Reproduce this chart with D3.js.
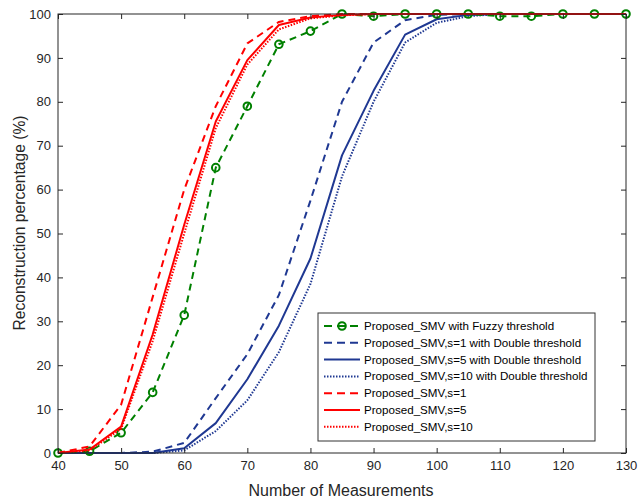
<!DOCTYPE html>
<html><head><meta charset="utf-8">
<script src="https://cdn.jsdelivr.net/npm/d3@7"></script>
<style>body{margin:0;background:#fff}svg{display:block}</style>
</head><body>
<svg id="c" width="638" height="500"></svg>
<script>
const measurements = [40,45,50,55,60,65,70,75,80,85,90,95,100,105,110,115,120,125,130];
const fuzzy   = [0,0.4,4.6,13.8,31.4,65,79,93.1,96.1,100,99.5,100,100,100,99.5,99.5,100,100,100];
const dbl_s1  = [0,0,0,0.3,2.3,12.5,22.5,36,57.5,80,93.5,98.6,99.8,100,100,100,100,100,100];
const dbl_s5  = [0,0,0,0,1.1,6.8,16.8,29,44.3,67.8,82.5,95.3,98.8,99.8,100,100,100,100,100];
const dbl_s10 = [0,0,0,0,0.6,5,12,23,38.5,63,80,93.5,98,99.5,100,100,100,100,100];
const s1      = [0,1.5,11,35.5,60,79,93.3,98.2,99.5,100,100,100,100,100,100,100,100,100,100];
const s5      = [0,0.8,6,27,52,75.5,89.5,97.5,99.2,99.8,100,100,100,100,100,100,100,100,100];
const s10     = [0,0.6,5.5,25.5,50,74,88.5,96.5,99,99.7,100,100,100,100,100,100,100,100,100];
const xTicks = [40,50,60,70,80,90,100,110,120,130];
const yTicks = [0,10,20,30,40,50,60,70,80,90,100];
const labels = ["Proposed_SMV with Fuzzy threshold","Proposed_SMV,s=1 with Double threshold","Proposed_SMV,s=5 with Double threshold","Proposed_SMV,s=10 with Double threshold","Proposed_SMV,s=1","Proposed_SMV,s=5","Proposed_SMV,s=10"];

const green="#008000", blue="#1f3892", red="#ff0000";
const series = [
  {v:fuzzy, c:green, dash:"7,5", w:2, marker:true},
  {v:dbl_s1, c:blue, dash:"7,5", w:2},
  {v:dbl_s5, c:blue, dash:null, w:2},
  {v:dbl_s10, c:blue, dash:"1.5,1.5", w:2},
  {v:s1, c:red, dash:"7,5", w:2},
  {v:s5, c:red, dash:null, w:2},
  {v:s10, c:red, dash:"1.5,1.5", w:2}
];

const svg = d3.select("#c");
const L=58,R=626,T=14,B=453;
const x = d3.scaleLinear().domain([40,130]).range([L,R]);
const y = d3.scaleLinear().domain([0,100]).range([B,T]);
const font = "Arial, 'Liberation Sans', Helvetica, sans-serif";
const tc = "#262626";

const clip = svg.append("defs").append("clipPath").attr("id","cp");
clip.append("rect").attr("x",L-6).attr("y",T-6).attr("width",R-L+12).attr("height",B-T+12);

const g = svg.append("g").attr("clip-path","url(#cp)");
const line = d3.line().x((d,i)=>x(measurements[i])).y(d=>y(d));
[1,2,3,0,6,5,4].forEach(k=>{
  const s=series[k];
  g.append("path").attr("d",line(s.v)).attr("fill","none").attr("stroke",s.c)
   .attr("stroke-width",s.w).attr("stroke-dasharray",s.dash).attr("stroke-linejoin","round");
  if(s.marker){
    g.selectAll(null).data(s.v).enter().append("circle")
     .attr("cx",(d,i)=>x(measurements[i])).attr("cy",d=>y(d)).attr("r",3.8)
     .attr("fill","none").attr("stroke",s.c).attr("stroke-width",2);
  }
});

const ax = svg.append("g");
ax.append("rect").attr("x",L).attr("y",T).attr("width",R-L).attr("height",B-T)
  .attr("fill","none").attr("stroke",tc).attr("stroke-width",1);
const xb = d3.axisBottom(x).tickValues(xTicks).tickSize(-5).tickPadding(8);
const xt = d3.axisTop(x).tickValues(xTicks).tickSize(-5).tickFormat("");
const yl = d3.axisLeft(y).tickValues(yTicks).tickSize(-5).tickPadding(7);
const yr = d3.axisRight(y).tickValues(yTicks).tickSize(-5).tickFormat("");
function st(sel){sel.select(".domain").remove();sel.selectAll("line").attr("stroke",tc);
  sel.selectAll("text").attr("fill",tc).style("font-family",font).style("font-size","13px");}
ax.append("g").attr("transform",`translate(0,${B})`).call(xb).call(st);
ax.append("g").attr("transform",`translate(0,${T})`).call(xt).call(st);
ax.append("g").attr("transform",`translate(${L},0)`).call(yl).call(st);
ax.append("g").attr("transform",`translate(${R},0)`).call(yr).call(st);

svg.append("text").attr("x",341).attr("y",496).attr("text-anchor","middle")
  .attr("fill",tc).style("font-family",font).style("font-size","16px").text("Number of Measurements");
svg.append("text").attr("transform",`translate(25,223) rotate(-90)`).attr("text-anchor","middle")
  .attr("fill",tc).style("font-family",font).style("font-size","15.6px").text("Reconstruction percentage (%)");

const lg = svg.append("g");
const lx=318, ly=313, lw=277, lh=128;
lg.append("rect").attr("x",lx).attr("y",ly).attr("width",lw).attr("height",lh)
  .attr("fill","#fff").attr("stroke","#333").attr("stroke-width",1);
series.forEach((s,i)=>{
  const yy = ly+13+i*16.8;
  lg.append("line").attr("x1",lx+6).attr("x2",lx+42).attr("y1",yy).attr("y2",yy)
    .attr("stroke",s.c).attr("stroke-width",s.w).attr("stroke-dasharray",s.dash?(s.dash==="7,5"?"8,5":"1.5,1.5"):null);
  if(s.marker) lg.append("circle").attr("cx",lx+24).attr("cy",yy).attr("r",3.8)
    .attr("fill","none").attr("stroke",s.c).attr("stroke-width",2);
  lg.append("text").attr("x",lx+46).attr("y",yy+4).attr("fill","#000")
    .style("font-family",font).style("font-size","11.6px").text(labels[i]);
});
</script>
</body></html>
